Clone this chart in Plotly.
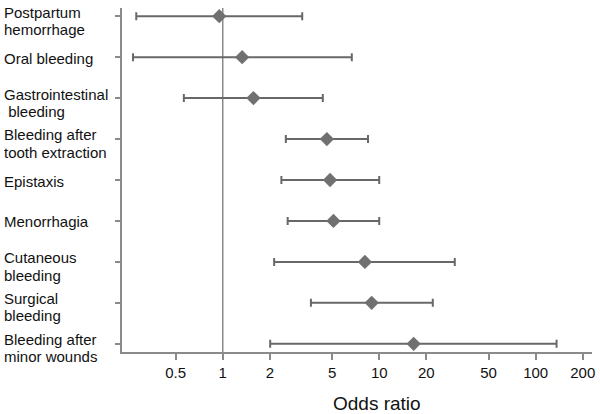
import plotly.graph_objects as go

categories = [
    "Postpartum<br>hemorrhage",
    "Oral bleeding",
    "Gastrointestinal<br>\u00a0bleeding",
    "Bleeding after<br>tooth extraction",
    "Epistaxis",
    "Menorrhagia",
    "Cutaneous<br>bleeding",
    "Surgical<br>bleeding",
    "Bleeding after<br>minor wounds",
]
odds_ratio = [0.95, 1.33, 1.57, 4.63, 4.85, 5.1, 8.1, 8.95, 16.6]
ci_lower = [0.28, 0.267, 0.564, 2.53, 2.37, 2.6, 2.13, 3.66, 2.01]
ci_upper = [3.22, 6.68, 4.36, 8.48, 10.0, 10.0, 30.4, 22.0, 136.0]
tick_vals = [0.5, 1, 2, 5, 10, 20, 50, 100, 200]
tick_text = ["0.5", "1", "2", "5", "10", "20", "50", "100", "200"]
x_title = "Odds ratio"

FONT = "Liberation Sans, Arial, Helvetica, sans-serif"
GREY = "#686868"
AXIS = "#8a8a8a"

ypos = list(range(len(categories)))

fig = go.Figure()
fig.add_trace(go.Scatter(
    x=odds_ratio,
    y=ypos,
    mode="markers",
    marker=dict(symbol="diamond", size=11, color="#707070"),
    error_x=dict(
        type="data",
        symmetric=False,
        array=[u - o for u, o in zip(ci_upper, odds_ratio)],
        arrayminus=[o - l for o, l in zip(odds_ratio, ci_lower)],
        color=GREY,
        thickness=2,
        width=4,
    ),
    showlegend=False,
    hoverinfo="skip",
))

# reference line at OR = 1
fig.add_shape(type="line", xref="x", yref="paper", x0=1, x1=1, y0=0, y1=1,
              line=dict(color=AXIS, width=1.5), layer="below")

# left-aligned category labels, one annotation per text line
line_gap = 17.2
for i, lab in enumerate(categories):
    lines = lab.split("<br>")
    n = len(lines)
    for j, ln in enumerate(lines):
        off = ((n - 1) / 2 - j) * line_gap
        shift = off - 1 - (3.5 if n > 1 else 0)
        fig.add_annotation(
            x=0, xref="paper", xshift=-120, xanchor="left",
            y=i, yref="y", yshift=shift, yanchor="middle",
            text=ln, showarrow=False,
            font=dict(family=FONT, size=15, color="#111"),
        )

# x-axis title (offset to the right as in the reference)
fig.add_annotation(
    x=0.5426, xref="paper", xanchor="center",
    y=-0.151, yref="paper", yanchor="middle",
    text=x_title, showarrow=False,
    font=dict(family=FONT, size=19, color="#111"),
)

fig.update_layout(
    width=600, height=414,
    margin=dict(l=122, r=8, t=8, b=62, autoexpand=False),
    paper_bgcolor="white", plot_bgcolor="white",
    font=dict(family=FONT, color="#111"),
)
fig.update_xaxes(
    type="log", range=[-0.644, 2.36],
    tickvals=tick_vals, ticktext=tick_text,
    ticks="outside", ticklen=6, tickwidth=1.5, tickcolor=AXIS,
    showline=True, linecolor=AXIS, linewidth=1.5,
    showgrid=False, zeroline=False, automargin=False,
    tickfont=dict(family=FONT, size=15, color="#111"),
)
fig.update_yaxes(
    range=[8.2, -0.2],
    tickvals=ypos, ticktext=[""] * len(ypos),
    ticks="outside", ticklen=5, tickwidth=1.5, tickcolor=AXIS,
    showline=True, linecolor=AXIS, linewidth=1.5,
    showgrid=False, zeroline=False, automargin=False,
)

fig.write_html("out.html", config={"displayModeBar": False},
               post_script="document.body.style.margin='0';")
